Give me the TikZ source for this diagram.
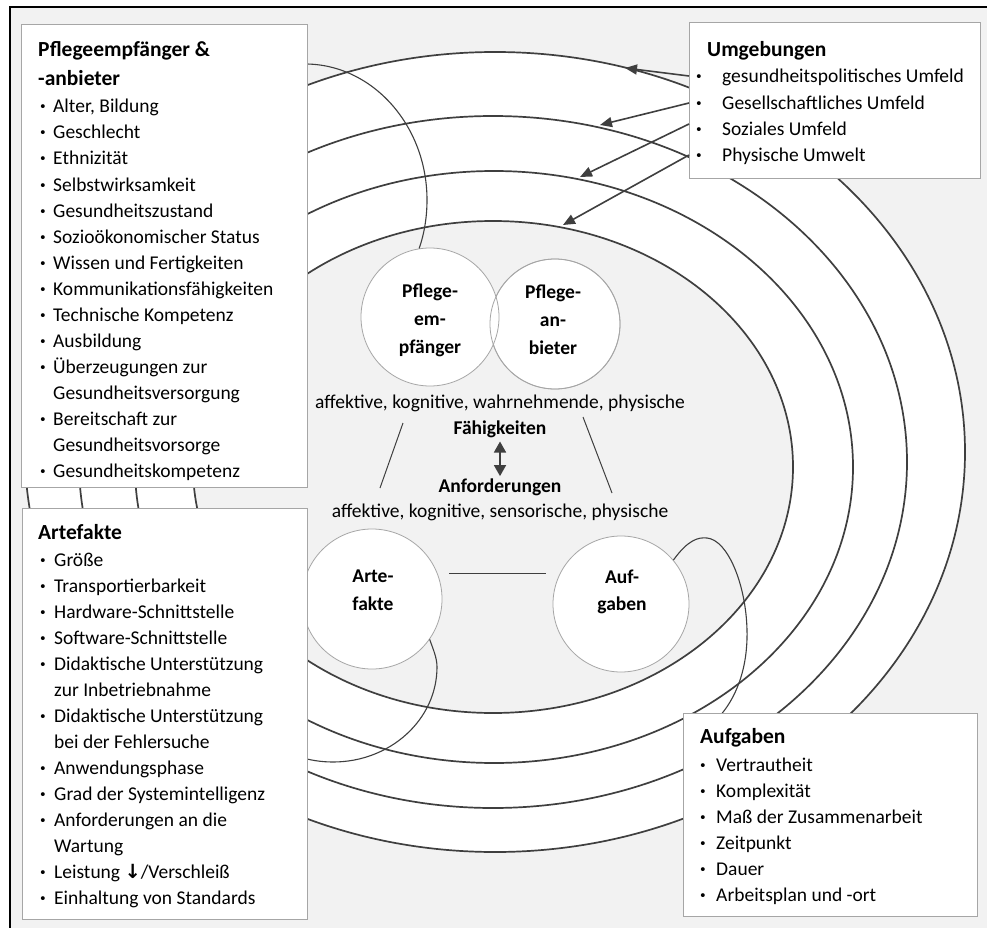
\documentclass[tikz,border=0pt]{standalone}
\usepackage{fontspec}
\setmainfont{Carlito}
\newfontfamily\symfont{DejaVu Sans}
\usetikzlibrary{arrows.meta,calc}
\definecolor{bg}{HTML}{F2F2F2}
\definecolor{ln}{HTML}{3F3F3F}
\definecolor{bx}{HTML}{A6A6A6}
\begin{document}
\begin{tikzpicture}[x=1pt,y=-1pt,
  ring/.style={draw=ln, line width=1.7pt},
  loopline/.style={draw=ln, line width=1.1pt},
  conn/.style={draw=ln, line width=1pt},
  envarrow/.style={draw=ln, line width=1.6pt, -{Triangle[length=12pt,width=10pt]}},
  dbl/.style={draw=ln, line width=1.6pt, {Triangle[length=11pt,width=12pt]}-{Triangle[length=11pt,width=12pt]}, shorten <=4pt, shorten >=2pt},
  box/.style={draw=bx, fill=white, line width=0.9pt, anchor=north west, inner sep=0pt},
  circ/.style={draw=bx, fill=white, line width=0.8pt, circle, inner sep=0pt},
  item/.style={anchor=base west, inner sep=0pt, font=\fontsize{19.5}{24}\selectfont},
  bul/.style={anchor=base, inner sep=0pt, font=\fontsize{21}{24}\selectfont\bfseries},
  ttl/.style={anchor=base west, inner sep=0pt, font=\fontsize{21.5}{26}\selectfont\bfseries},
  ctext/.style={anchor=base, inner sep=0pt, font=\fontsize{19.5}{24}\selectfont},
  ctextb/.style={anchor=base, inner sep=0pt, font=\fontsize{19.5}{24}\selectfont\bfseries},
  circtxt/.style={anchor=base, inner sep=0pt, font=\fontsize{19.5}{24}\selectfont\bfseries}
]
\useasboundingbox (0,0) rectangle (987,928);
% background frame
\fill[bg] (10,7) rectangle (987,928);
\draw[black, line width=1.5pt] (10,928) -- (10,7) -- (987,7);

% concentric rings
\coordinate (o1) at (495,452);
\coordinate (o2) at (493,462);
\coordinate (o3) at (494,467);
\coordinate (o4) at (493,467);
\draw[ring, fill=white] (o1) ellipse [x radius=470pt, y radius=400pt];
\draw[ring, fill=white] (o2) ellipse [x radius=414pt, y radius=346pt];
\draw[ring, fill=white] (o3) ellipse [x radius=359pt, y radius=296pt];
\draw[ring, fill=bg] (o4) ellipse [x radius=300pt, y radius=246pt];

% circles
\node[circ, minimum size=130pt] (cAN) at (555,324) {};
\node[circ, minimum size=138pt] (cPE) at (430,317) {};
\draw[draw=bx, line width=0.8pt] (cAN.center) circle [radius=65pt];
\node[circ, minimum size=140pt] (cAR) at (372,599) {};
\node[circ, minimum size=136pt] (cAU) at (621,604) {};

% loops
\coordinate (lp1end) at (305,64);
\coordinate (lp2end) at (297.4,756.3);
\coordinate (lp3end) at (718,718);
\draw[loopline] (cPE.99) .. controls (424.4,233.4) and (427,216.7) .. (427,200)
  .. controls (427,125) and (372,64) .. (lp1end);
\draw[loopline] (cAR.-35.5) .. controls (433,649) and (437,657.6) .. (437,667)
  .. controls (437,719.5) and (390.4,762) .. (333,762)
  .. controls (320.9,762) and (308.8,760.1) .. (lp2end);
\draw[loopline] (cAU.40) .. controls (688,540) and (698,537) .. (707,538)
  .. controls (728,540) and (746,585) .. (747,630)
  .. controls (748,670) and (735,700) .. (lp3end);

% circle texts
\foreach \t [count=\i from 0] in {Pflege-,em-,pfänger}
  \node[circtxt] (tPE\i) at (430,297+28*\i) {\t};
\foreach \t [count=\i from 0] in {Pflege-,an-,bieter}
  \node[circtxt] (tAN\i) at (553,298+28*\i) {\t};
\foreach \t [count=\i from 0] in {Arte-,fakte}
  \node[circtxt] (tAR\i) at (373,582+28*\i) {\t};
\foreach \t [count=\i from 0] in {Auf-,gaben}
  \node[circtxt] (tAU\i) at (622,583+27*\i) {\t};

% connecting lines
\coordinate (l1a) at (403,423);
\coordinate (l1b) at (380,488);
\coordinate (l2a) at (583,417);
\coordinate (l2b) at (612,493);
\coordinate (l3a) at (449,573);
\coordinate (l3b) at (546,573);
\draw[conn] (l1a) -- (l1b);
\draw[conn] (l2a) -- (l2b);
\draw[conn] (l3a) -- (l3b);

% centre texts
\node[ctext] (abil) at (500,408) {affektive, kognitive, wahrnehmende, physische};
\node[ctextb] (fae) at (500,434) {Fähigkeiten};
\node[ctextb] (anf) at (500,492) {Anforderungen};
\node[ctext] (areq) at (500,517) {affektive, kognitive, sensorische, physische};
\draw[dbl] (fae.south) -- (anf.north);

% Umgebungen box and arrows
\node[box, minimum width=291pt, minimum height=156pt] (bUM) at (689,22) {};
\coordinate (t1) at (625,68);
\coordinate (t2) at (600,125);
\coordinate (t3) at (580,177);
\coordinate (t4) at (563,225);
\draw[envarrow] ($(bUM.north west)+(0,54)$) -- (t1);
\draw[envarrow] ($(bUM.north west)+(0,81)$) -- (t2);
\draw[envarrow] ($(bUM.north west)+(0,102)$) -- (t3);
\draw[envarrow] ($(bUM.north west)+(0,133)$) -- (t4);
\node[ttl] (hUM) at (707,57) {Umgebungen};
\foreach \t [count=\i from 0] in {gesundheitspolitisches Umfeld,Gesellschaftliches Umfeld,Soziales Umfeld,Physische Umwelt}{
  \node[item] (um\i) at (722,83+26.3*\i) {\t};
  \node[bul] (umb\i) at (699,83+26.3*\i) {·};
}

% Pflegeempfaenger box
\node[box, minimum width=286pt, minimum height=463pt] (bPE) at (21,24) {};
\node[ttl] (hPE1) at (38,57) {Pflegeempfänger \&};
\node[ttl] (hPE2) at (38,86) {-anbieter};
\foreach \b/\t [count=\i from 0] in {1/{Alter, Bildung},1/Geschlecht,1/Ethnizität,1/Selbstwirksamkeit,1/Gesundheitszustand,1/{Sozioökonomischer Status},1/{Wissen und Fertigkeiten},1/Kommunikationsfähigkeiten,1/{Technische Kompetenz},1/Ausbildung,1/{Überzeugungen zur},0/Gesundheitsversorgung,1/{Bereitschaft zur},0/Gesundheitsvorsorge,1/Gesundheitskompetenz}{
  \node[item] (pe\i) at (53,113+26*\i) {\t};
  \ifnum\b=1 \node[bul] (peb\i) at (43,113+26*\i) {·};\fi
}

% Artefakte box
\node[box, minimum width=285pt, minimum height=411pt] (bAR) at (22,508) {};
\node[ttl] (hAR) at (38,539) {Artefakte};
\foreach \b/\t [count=\i from 0] in {1/Größe,1/Transportierbarkeit,1/Hardware-Schnittstelle,1/Software-Schnittstelle,1/{Didaktische Unterstützung},0/{zur Inbetriebnahme},1/{Didaktische Unterstützung},0/{bei der Fehlersuche},1/Anwendungsphase,1/{Grad der Systemintelligenz},1/{Anforderungen an die},0/Wartung,1/{Leistung {\symfont\bfseries ↓}/Verschleiß},1/{Einhaltung von Standards}}{
  \node[item] (ar\i) at (54,566+26*\i) {\t};
  \ifnum\b=1 \node[bul] (arb\i) at (43,566+26*\i) {·};\fi
}

% Aufgaben box
\node[box, minimum width=294pt, minimum height=203pt] (bAU) at (683,713) {};
\node[ttl] (hAU) at (700,743) {Aufgaben};
\foreach \t [count=\i from 0] in {Vertrautheit,Komplexität,Maß der Zusammenarbeit,Zeitpunkt,Dauer,Arbeitsplan und -ort}{
  \node[item] (au\i) at (716,771+26*\i) {\t};
  \node[bul] (aub\i) at (703,771+26*\i) {·};
}
\end{tikzpicture}
\end{document}
